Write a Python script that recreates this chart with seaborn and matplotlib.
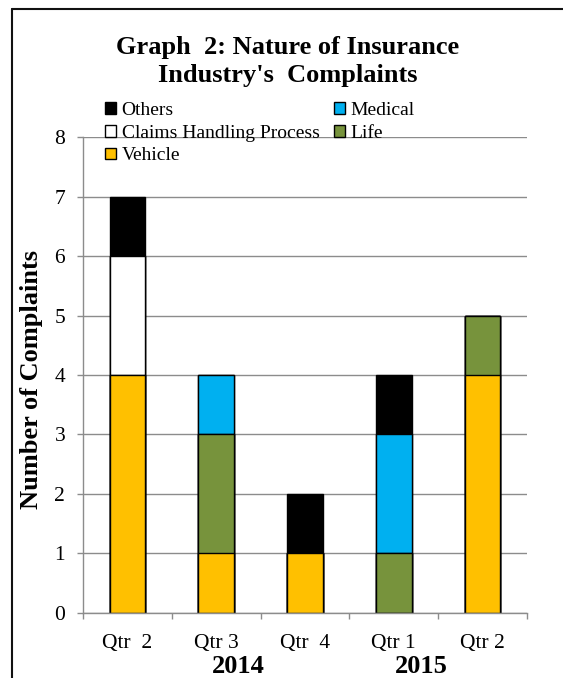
import numpy as np
import pandas as pd
import seaborn as sns
import matplotlib.pyplot as plt
from matplotlib.lines import Line2D
from matplotlib.patches import Patch

# Data
periods     = ['2014 Q2', '2014 Q3', '2014 Q4', '2015 Q1', '2015 Q2']
tick_labels = ['Qtr  2', 'Qtr 3', 'Qtr  4', 'Qtr 1', 'Qtr 2']
years       = ['2014', '2015']

vehicle = [4, 1, 1, 0, 4]
life    = [0, 2, 0, 1, 1]
claims  = [2, 0, 0, 0, 0]
medical = [0, 1, 0, 2, 0]
others  = [1, 0, 1, 1, 0]

# bottom-up stacking order
series = ['Vehicle', 'Life', 'Claims Handling Process', 'Medical', 'Others']
values = [vehicle, life, claims, medical, others]
colors = {'Vehicle': '#FFC000', 'Life': '#77933C', 'Claims Handling Process': '#FFFFFF',
          'Medical': '#00B0F0', 'Others': '#000000'}

sns.set_style('white')
plt.rcParams['font.family'] = ['Liberation Serif', 'DejaVu Serif']
plt.rcParams['text.color'] = 'black'

#----------------------------------------------------------
df = pd.DataFrame({'period': periods})
cum = np.zeros(len(periods))
for name, vals in zip(series, values):
    cum = cum + np.array(vals)
    df[name] = cum

fig = plt.figure(figsize=(5.63, 6.78), dpi=100)
ax = fig.add_axes([0.1474, 0.0959, 0.7886, 0.702])

# Draw cumulative totals from the top segment down so lower segments cover them
for name in series[::-1]:
    sns.barplot(data=df, x='period', y=name, order=periods, color=colors[name],
                saturation=1, width=0.4, edgecolor='black', linewidth=1.0, ax=ax)

ax.set_ylim(0, 8)
ax.set_yticks(range(0, 9))
ax.set_xlim(-0.5, len(periods) - 0.5)
ax.set_xticks(range(len(periods)))
ax.set_xticklabels(tick_labels)
ax.set_xticks(np.arange(-0.5, len(periods), 1.0), minor=True)
ax.set_xlabel('')
ax.set_ylabel('')

ax.set_axisbelow(True)
ax.yaxis.grid(True, color='#8c8c8c', linewidth=1.0)
ax.xaxis.grid(False)
sns.despine(ax=ax, top=True, right=True)
for s in ['left', 'bottom']:
    ax.spines[s].set_color('#8c8c8c')
    ax.spines[s].set_linewidth(1.0)

ax.tick_params(axis='y', which='major', length=4.3, width=1.0, color='#8c8c8c',
               pad=8.5, labelsize=15.5, labelcolor='black', left=True)
ax.tick_params(axis='x', which='major', length=0, pad=15, labelsize=15.5, labelcolor='black')
ax.tick_params(axis='x', which='minor', length=4.3, width=1.0, color='#8c8c8c', bottom=True)

# Axis label and year labels
fig.text(32 / 563, 0.44, 'Number of Complaints', rotation=90, ha='center', va='center',
         fontsize=19, fontweight='bold')
fig.text(238 / 563, 0.008, years[0], ha='center', va='baseline', fontsize=19, fontweight='bold')
fig.text(421 / 563, 0.008, years[1], ha='center', va='baseline', fontsize=19, fontweight='bold')

# Title
fig.text(288 / 563, 0.947, "Graph  2: Nature of Insurance\nIndustry's  Complaints",
         ha='center', va='top', fontsize=19, fontweight='bold', linespacing=1.3)

# Legend (column-wise fill: Others, Claims, Vehicle | Medical, Life)
leg_order = ['Others', 'Claims Handling Process', 'Vehicle', 'Medical', 'Life']
handles = [Patch(facecolor=colors[n], edgecolor='black', linewidth=1.0, label=n) for n in leg_order]
fig.legend(handles=handles, loc='upper left', bbox_to_anchor=(105 / 563, 0.850), ncol=2,
           frameon=False, fontsize=14, handlelength=0.55, handleheight=0.55,
           handletextpad=0.3, columnspacing=0.75, labelspacing=0.3,
           borderpad=0, borderaxespad=0)

# Outer chart frame (top and left edges visible)
fx = 12 / 563
fy = 1 - 9 / 678
fig.add_artist(Line2D([fx, 1.0], [fy, fy], transform=fig.transFigure, color='#111111', linewidth=1.5))
fig.add_artist(Line2D([fx, fx], [0.0, fy], transform=fig.transFigure, color='#111111', linewidth=1.5))

plt.savefig('out.png', dpi=100)
plt.close(fig)
